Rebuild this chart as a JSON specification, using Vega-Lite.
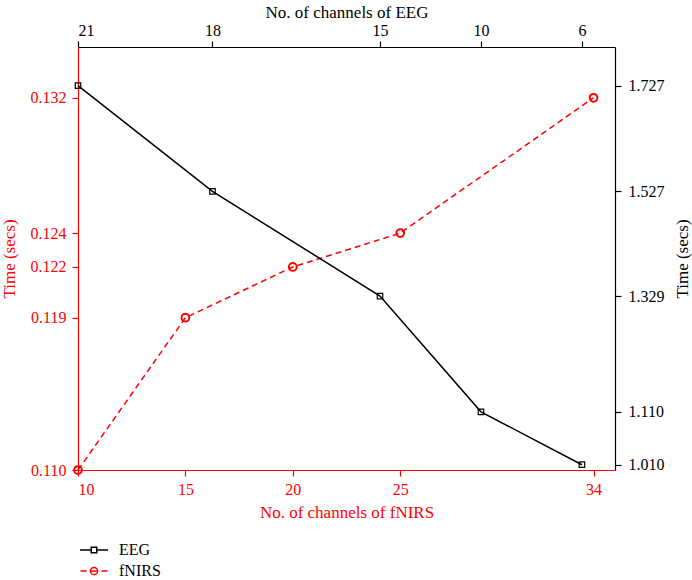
{
  "$schema": "https://vega.github.io/schema/vega-lite/v6.json",
  "width": 537,
  "height": 423,
  "autosize": "none",
  "padding": {"left": 78, "top": 47, "right": 77, "bottom": 110},
  "background": "white",
  "config": {
    "font": "Liberation Serif",
    "view": {"stroke": null},
    "axis": {
      "grid": false,
      "labelFont": "Liberation Serif",
      "titleFont": "Liberation Serif",
      "labelFontSize": 16,
      "titleFontSize": 17,
      "titleFontWeight": "normal",
      "tickSize": 6,
      "domainWidth": 1.2,
      "tickWidth": 1.2,
      "labelPadding": 3
    }
  },
  "datasets": {
    "fnirs": [
      {"series": "fNIRS", "channels": 10, "time": 0.110},
      {"series": "fNIRS", "channels": 15, "time": 0.119},
      {"series": "fNIRS", "channels": 20, "time": 0.122},
      {"series": "fNIRS", "channels": 25, "time": 0.124},
      {"series": "fNIRS", "channels": 34, "time": 0.132}
    ],
    "eeg": [
      {"series": "EEG", "channels": 21, "position": 10, "time": 1.727},
      {"series": "EEG", "channels": 18, "position": 16.26, "time": 1.527},
      {"series": "EEG", "channels": 15, "position": 24.06, "time": 1.329},
      {"series": "EEG", "channels": 10, "position": 28.76, "time": 1.110},
      {"series": "EEG", "channels": 6, "position": 33.46, "time": 1.010}
    ]
  },
  "layer": [
    {
      "data": {"name": "fnirs"},
      "encoding": {
        "x": {
          "field": "channels",
          "type": "quantitative",
          "scale": {"domain": [10, 35], "nice": false, "zero": false},
          "axis": {
            "orient": "bottom",
            "values": [10, 15, 20, 25, 34],
            "title": "No. of channels of fNIRS",
            "labelColor": "#ff0000",
            "titleColor": "#ff0000",
            "domainColor": "#ff0000",
            "tickColor": "#ff0000",
            "labelPadding": 5,
            "titlePadding": 7
          }
        },
        "y": {
          "field": "time",
          "type": "quantitative",
          "scale": {"domain": [0.110, 0.135], "nice": false, "zero": false},
          "axis": {
            "orient": "left",
            "values": [0.110, 0.119, 0.122, 0.124, 0.132],
            "format": ".3f",
            "title": "Time (secs)",
            "labelColor": "#ff0000",
            "titleColor": "#ff0000",
            "domainColor": "#ff0000",
            "tickColor": "#ff0000",
            "labelPadding": 6,
            "titlePadding": 12
          }
        }
      },
      "layer": [
        {
          "mark": {"type": "line", "strokeDash": [6, 4], "strokeWidth": 1.5},
          "encoding": {
            "color": {
              "field": "series",
              "type": "nominal",
              "scale": {"domain": ["EEG", "fNIRS"], "range": ["#000000", "#ff0000"]},
              "legend": {
                "title": null,
                "orient": "none",
                "legendX": 3,
                "legendY": 490,
                "padding": 0,
                "symbolSize": 576,
                "symbolStrokeWidth": 1.5,
                "rowPadding": 0,
                "labelOffset": 12,
                "labelFontSize": 16,
                "labelFont": "Liberation Serif",
                "labelColor": "#000000",
                "encode": {
                  "symbols": {
                    "update": {
                      "shape": {"signal": "datum.value === 'EEG' ? 'M-1.17,0H-0.23M0.23,0H1.17M-0.23,-0.23H0.23V0.23H-0.23Z' : 'M-1.12,0H-0.62M0.62,0H1.12M-0.3,0H0.3M-0.3,0A0.3,0.3 0 1,1 0.3,0A0.3,0.3 0 1,1 -0.3,0Z'"},
                      "strokeDash": {"value": []},
                      "fill": {"value": "transparent"}
                    }
                  }
                }
              }
            }
          }
        },
        {
          "mark": {"type": "point", "shape": "circle", "size": 60, "strokeWidth": 2, "filled": false, "color": "#ff0000", "opacity": 1}
        }
      ]
    },
    {
      "data": {"name": "eeg"},
      "encoding": {
        "x": {
          "field": "position",
          "type": "quantitative",
          "scale": {"domain": [10, 35], "nice": false, "zero": false},
          "axis": {
            "orient": "top",
            "values": [10, 16.26, 24.06, 28.76, 33.46],
            "labelExpr": "datum.value < 13 ? '21' : datum.value < 20 ? '18' : datum.value < 26 ? '15' : datum.value < 31 ? '10' : '6'",
            "title": "No. of channels of EEG",
            "labelColor": "#000000",
            "titleColor": "#000000",
            "domainColor": "#000000",
            "tickColor": "#000000",
            "labelPadding": 3,
            "titlePadding": 1
          }
        },
        "y": {
          "field": "time",
          "type": "quantitative",
          "scale": {"domain": [1.0, 1.8], "nice": false, "zero": false},
          "axis": {
            "orient": "right",
            "values": [1.010, 1.110, 1.329, 1.527, 1.727],
            "format": ".3f",
            "title": "Time (secs)",
            "titleAngle": 270,
            "titleBaseline": "top",
            "labelColor": "#000000",
            "titleColor": "#000000",
            "domainColor": "#000000",
            "tickColor": "#000000",
            "labelPadding": 7,
            "titlePadding": 10
          }
        }
      },
      "layer": [
        {
          "mark": {"type": "line", "strokeWidth": 1.5},
          "encoding": {
            "color": {"field": "series", "type": "nominal"}
          }
        },
        {
          "mark": {"type": "point", "shape": "square", "size": 30, "strokeWidth": 1.2, "filled": false, "color": "#000000", "opacity": 1}
        }
      ]
    }
  ],
  "resolve": {"scale": {"x": "independent", "y": "independent"}}
}
